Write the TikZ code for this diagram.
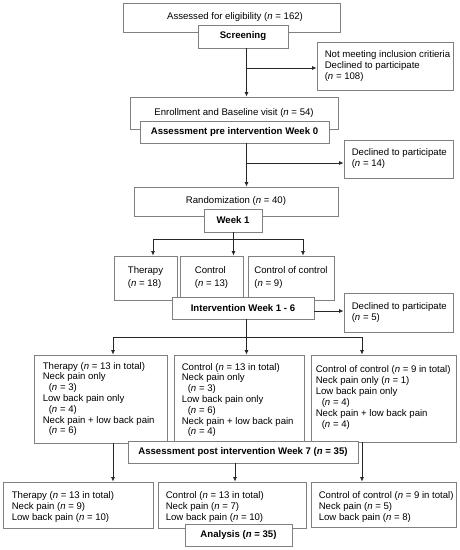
\documentclass[tikz,border=0pt]{standalone}
\usepackage{fontspec}
\setmainfont{Liberation Sans}
\usetikzlibrary{arrows.meta}
\newcommand{\nn}{\textit{n}}
\newcommand{\ind}{\hspace*{6pt}}
\begin{document}
\begin{tikzpicture}[x=1pt,y=-1pt,
  box/.style={draw=black!50, line width=0.8pt, fill=white, inner sep=0pt,
    font=\fontsize{9.6}{11}\selectfont},
  bbox/.style={box, font=\fontsize{9.6}{11}\selectfont\bfseries},
  txt/.style={inner sep=0pt, align=left, anchor=west,
    font=\fontsize{9.6}{11}\selectfont},
  arr/.style={draw=black!85, line width=0.8pt, -{Latex[length=4.5pt,width=4pt]}},
  ln/.style={draw=black!85, line width=0.8pt}]
\useasboundingbox (0,0) rectangle (460,550);

% top part
\node[box, minimum width=217pt, minimum height=29pt] (assess) at (231.5,17.5)
  {\hspace*{7pt}Assessed for eligibility (\nn{} = 162)};
\node[bbox, minimum width=90pt, minimum height=23pt] (screen) at (243,36.5) {Screening};
\node[box, minimum width=136pt, minimum height=48pt] (notmeet) at (385,66) {};
\node[txt] (notmeett) at ([xshift=8pt]notmeet.west)
  {Not meeting inclusion critieria\\Declined to participate\\(\nn{} = 108)};

\node[box, minimum width=208pt, minimum height=32pt] (enroll) at (234,113)
  {\raisebox{0pt}{Enrollment and Baseline visit (\nn{} = 54)}};
\node[bbox, minimum width=189pt, minimum height=22pt] (preass) at (234.5,132)
  {Assessment pre intervention Week 0};
\node[box, minimum width=109pt, minimum height=38pt] (decl14) at (398.5,159) {};
\node[txt] (decl14t) at ([xshift=8pt]decl14.west)
  {Declined to participate\\(\nn{} = 14)};

\node[box, minimum width=204pt, minimum height=29pt] (random) at (236,201.5)
  {Randomization (\nn{} = 40)};
\node[bbox, minimum width=58pt, minimum height=23pt] (week1) at (233,220.5) {Week 1};

\node[box, minimum width=63pt, minimum height=44pt, align=left,
  font=\fontsize{9.6}{13}\selectfont] (ther1) at (145.5,278) {Therapy\\(\nn{} = 18)};
\node[box, minimum width=63pt, minimum height=44pt, align=left,
  font=\fontsize{9.6}{13}\selectfont] (ctrl1) at (211.5,278) {Control\\(\nn{} = 13)};
\node[box, minimum width=86pt, minimum height=44pt, align=left,
  font=\fontsize{9.6}{13}\selectfont] (coc1) at (291,278) {Control of control\\(\nn{} = 9)};

\node[bbox, minimum width=142pt, minimum height=22pt] (interv) at (243,308) {Intervention Week 1 - 6};
\node[box, minimum width=109pt, minimum height=39pt] (decl5) at (398.5,312.5) {};
\node[txt] (decl5t) at ([xshift=8pt]decl5.west)
  {Declined to participate\\(\nn{} = 5)};

% middle groups
\node[box, minimum width=133pt, minimum height=88pt] (ther2) at (100.5,399) {};
\node[txt, font=\fontsize{9.6}{10.8}\selectfont] (ther2t) at ([xshift=9pt]ther2.west)
  {Therapy (\nn{} = 13 in total)\\Neck pain only\\\ind(\nn{} = 3)\\Low back pain only\\\ind(\nn{} = 4)\\Neck pain + low back pain\\\ind(\nn{} = 6)};
\node[box, minimum width=130pt, minimum height=88pt] (ctrl2) at (239,399) {};
\node[txt, font=\fontsize{9.6}{10.8}\selectfont] (ctrl2t) at ([xshift=8pt,yshift=-1pt]ctrl2.west)
  {Control (\nn{} = 13 in total)\\Neck pain only\\\ind(\nn{} = 3)\\Low back pain only\\\ind(\nn{} = 6)\\Neck pain + low back pain\\\ind(\nn{} = 4)};
\node[box, minimum width=145pt, minimum height=87pt] (coc2) at (383.5,398.5) {};
\node[txt, font=\fontsize{9.6}{10.9}\selectfont] (coc2t) at ([xshift=5pt,yshift=1pt]coc2.west)
  {Control of control (\nn{} = 9 in total)\\Neck pain only (\nn{} = 1)\\Low back pain only\\\ind(\nn{} = 4)\\Neck pain + low back pain\\\ind(\nn{} = 4)};

\node[bbox, minimum width=230pt, minimum height=22pt] (postass) at (243,452)
  {Assessment post intervention Week 7 (\nn{} = 35)};

% bottom groups
\node[box, minimum width=150pt, minimum height=46pt] (ther3) at (78,505) {};
\node[txt] (ther3t) at ([xshift=9pt,yshift=-2.5pt]ther3.west)
  {Therapy (\nn{} = 13 in total)\\Neck pain (\nn{} = 9)\\Low back pain (\nn{} = 10)};
\node[box, minimum width=148pt, minimum height=46pt] (ctrl3) at (232,505) {};
\node[txt] (ctrl3t) at ([xshift=8pt,yshift=-2.5pt]ctrl3.west)
  {Control (\nn{} = 13 in total)\\Neck pain (\nn{} = 7)\\Low back pain (\nn{} = 10)};
\node[box, minimum width=145pt, minimum height=45pt] (coc3) at (383.5,504.5) {};
\node[txt] (coc3t) at ([xshift=8pt,yshift=-2.5pt]coc3.west)
  {Control of control (\nn{} = 9 in total)\\Neck pain (\nn{} = 5)\\Low back pain (\nn{} = 8)};
\node[bbox, minimum width=107pt, minimum height=22pt] (analysis) at (238.5,535)
  {Analysis (\nn{} = 35)};

% connectors
\coordinate (spine) at (246.5,0);
\coordinate (b1) at (246.5,68);
\coordinate (b2) at (246.5,163);
\draw[arr] (screen.south -| spine) -- (enroll.north -| spine);
\draw[arr] (b1) -- (b1 -| notmeet.west);
\draw[arr] (preass.south -| spine) -- (random.north -| spine);
\draw[arr] (b2) -- (b2 -| decl14.west);

\coordinate (r0) at (233.5,239);
\coordinate (rl) at (153,239);
\coordinate (rr) at (303,239);
\draw[ln] (week1.south -| r0) -- (r0);
\draw[ln] (rl) -- (rr);
\draw[arr] (rl) -- (rl |- ther1.north);
\draw[arr] (r0) -- (r0 |- ctrl1.north);
\draw[arr] (rr) -- (rr |- coc1.north);

\coordinate (d0) at (246.5,311);
\draw[arr] (d0 -| interv.east) -- (d0 -| decl5.west);

\coordinate (i0) at (246.5,337);
\coordinate (il) at (113,337);
\coordinate (ir) at (362,337);
\draw[ln] (interv.south -| i0) -- (i0);
\draw[ln] (il) -- (ir);
\draw[arr] (il) -- (il |- ther2.north);
\draw[arr] (i0) -- (i0 |- ctrl2.north);
\draw[arr] (ir) -- (ir |- coc2.north);

\coordinate (pl) at (113,0);
\coordinate (pm) at (235,0);
\coordinate (pr) at (362,0);
\draw[arr] (ther2.south -| pl) -- (ther3.north -| pl);
\draw[arr] (postass.south -| pm) -- (ctrl3.north -| pm);
\draw[arr] (coc2.south -| pr) -- (coc3.north -| pr);
\end{tikzpicture}
\end{document}
